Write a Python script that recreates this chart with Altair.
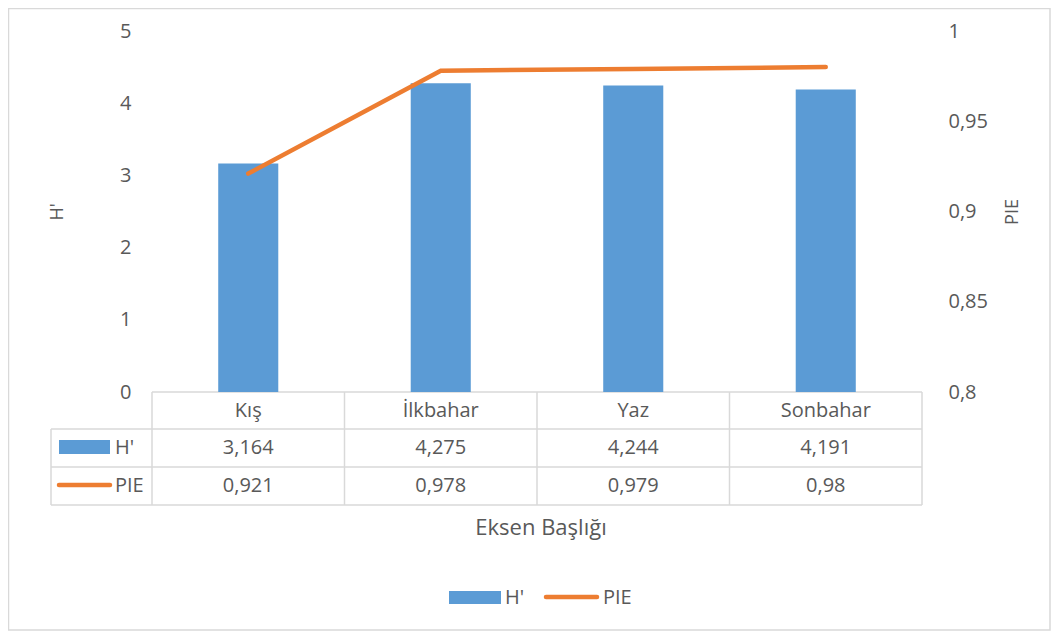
import altair as alt
import pandas as pd

# ---- data ----
categories = ["Kış", "İlkbahar", "Yaz", "Sonbahar"]
h_values = [3.164, 4.275, 4.244, 4.191]
pie_values = [0.921, 0.978, 0.979, 0.98]
h_ticks = [0, 1, 2, 3, 4, 5]
pie_ticks = [0.8, 0.85, 0.9, 0.95, 1]

BLUE = "#5B9BD5"
ORANGE = "#ED7D31"
TXT = "#595959"
GRID = "#D9D9D9"
FONT = "Open Sans"

W, H = 770, 361

df = pd.DataFrame({
    "season": categories,
    "H": h_values,
    "PIE": pie_values,
    "h_label": [str(v).replace(".", ",") for v in h_values],
    "pie_label": [str(v).replace(".", ",") for v in pie_values],
})

def xenc():
    return alt.X("season:N", sort=categories,
                 scale=alt.Scale(paddingInner=0.688, paddingOuter=0.344),
                 axis=None)

bars = alt.Chart(df).mark_bar(color=BLUE).encode(
    x=xenc(),
    y=alt.Y("H:Q", scale=alt.Scale(domain=[0, 5]),
            axis=alt.Axis(orient="left", values=h_ticks, title="H'", grid=False,
                          domain=False, ticks=False, labelPadding=21,
                          labelFontSize=20, labelColor=TXT, labelFont=FONT,
                          titleFont=FONT, titleFontSize=18, titleColor=TXT,
                          titleFontWeight="normal", titleX=-95, titleY=H / 2,
                          titleAngle=270, titleAlign="center", titleBaseline="middle")),
)

line = alt.Chart(df).mark_line(color=ORANGE, strokeWidth=4.5, strokeCap="round").encode(
    x=xenc(),
    y=alt.Y("PIE:Q", scale=alt.Scale(domain=[0.8, 1], zero=False),
            axis=alt.Axis(orient="right", values=pie_ticks, title="PIE", grid=False,
                          domain=False, ticks=False, labelPadding=26,
                          labelExpr="replace(toString(datum.value), '.', ',')",
                          labelFontSize=20, labelColor=TXT, labelFont=FONT,
                          titleFont=FONT, titleFontSize=18, titleColor=TXT,
                          titleFontWeight="normal", titleX=90, titleY=H / 2,
                          titleAngle=270, titleAlign="center", titleBaseline="middle")),
)

# ---- data table grid (structure) ----
step = W / 4
rules_df = pd.DataFrame({
    "x":  [0, -101, -101, -101, -101, 0, step, 2 * step, 3 * step, W],
    "x2": [W, W, W, W, -101, 0, step, 2 * step, 3 * step, W],
    "y":  [361, 398, 436, 474, 398, 361, 361, 361, 361, 361],
    "y2": [361, 398, 436, 474, 474, 474, 474, 474, 474, 474],
})
rules = alt.Chart(rules_df).mark_rule(color=GRID, strokeWidth=1.5).encode(
    x=alt.X("x:Q", scale=None, axis=None), x2="x2:Q",
    y=alt.Y("y:Q", scale=None, axis=None), y2="y2:Q",
)

def table_text(field, ypix):
    return alt.Chart(df).mark_text(fontSize=20, color=TXT, font=FONT, baseline="middle").encode(
        x=xenc(), y=alt.value(ypix), text=f"{field}:N")

hdr = table_text("season", 379.5)
row_h = table_text("h_label", 417)
row_p = table_text("pie_label", 455)

# ---- legend swatches (table row keys and bottom legend) ----
rect_df = pd.DataFrame({"x": [-93, 297], "x2": [-42, 349], "y": [409, 560], "y2": [423, 573]})
rects = alt.Chart(rect_df).mark_rect(color=BLUE).encode(
    x=alt.X("x:Q", scale=None, axis=None), x2="x2:Q",
    y=alt.Y("y:Q", scale=None, axis=None), y2="y2:Q",
)
oline_df = pd.DataFrame({"x": [-93, 394], "x2": [-42, 445], "y": [454, 566]})
olines = alt.Chart(oline_df).mark_rule(color=ORANGE, strokeWidth=4.5, strokeCap="round").encode(
    x=alt.X("x:Q", scale=None, axis=None), x2="x2:Q",
    y=alt.Y("y:Q", scale=None, axis=None),
)
ltext_df = pd.DataFrame({"x": [-37, -37, 353, 451], "y": [417, 455, 567, 567],
                         "t": ["H'", "PIE", "H'", "PIE"]})
ltext = alt.Chart(ltext_df).mark_text(fontSize=20, color=TXT, font=FONT, align="left",
                                      baseline="middle").encode(
    x=alt.X("x:Q", scale=None, axis=None),
    y=alt.Y("y:Q", scale=None, axis=None),
    text="t:N",
)

xtitle_df = pd.DataFrame({"x": [W / 2 + 4], "y": [497], "t": ["Eksen Başlığı"]})
xtitle = alt.Chart(xtitle_df).mark_text(fontSize=22, color=TXT, font=FONT,
                                        baseline="middle").encode(
    x=alt.X("x:Q", scale=None, axis=None),
    y=alt.Y("y:Q", scale=None, axis=None),
    text="t:N",
)

border_df = pd.DataFrame({"x": [-143.5], "x2": [898], "y": [-22.5], "y2": [599]})
border = alt.Chart(border_df).mark_rect(fill=None, stroke=GRID, strokeWidth=1.5).encode(
    x=alt.X("x:Q", scale=None, axis=None), x2="x2:Q",
    y=alt.Y("y:Q", scale=None, axis=None), y2="y2:Q",
)

chart = alt.layer(
    border, rules, bars, line, hdr, row_h, row_p, rects, olines, ltext, xtitle
).resolve_scale(x="independent", y="independent").properties(
    width=W, height=H,
    background="white",
    autosize=alt.AutoSizeParams(type="none"),
    padding={"left": 144, "top": 23, "right": 129, "bottom": 239},
).configure_view(stroke="transparent", strokeWidth=0)

chart.save("out.html", embed_options={"renderer": "svg", "actions": False})
